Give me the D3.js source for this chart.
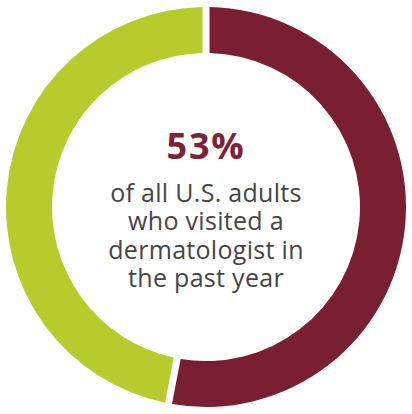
<!DOCTYPE html>
<html><head><meta charset="utf-8">
<script src="https://cdn.jsdelivr.net/npm/d3@7"></script>
<style>html,body{margin:0;padding:0;background:#fff;}svg{display:block;}</style>
</head><body>
<svg id="c" width="412" height="414"></svg>
<script>
const categories = ["Visited a dermatologist", "Did not visit"];
const values = [53, 47];
const colors = ["#7a1f31", "#b7cb2c"];
const headline = "53%";
const captionLines = ["of all U.S. adults", "who visited a", "dermatologist in", "the past year"];

const svg = d3.select("#c");
const cx = 206, cy = 207, rOuter = 200, rInner = 154;
const g = svg.append("g").attr("transform", `translate(${cx},${cy})`);
const pie = d3.pie().sort(null).value(d => d);
const arc = d3.arc().innerRadius(rInner).outerRadius(rOuter).padAngle(0.028);
g.selectAll("path").data(pie(values)).join("path")
  .attr("d", arc).attr("fill", (d, i) => colors[i]);

g.append("text").attr("x", 0).attr("y", -48).attr("text-anchor", "middle")
  .attr("font-family", "Open Sans, sans-serif").attr("font-weight", 700)
  .attr("font-size", 36).attr("letter-spacing", 1.8).attr("fill", "#7d2237").text(headline);

const ys = d3.scaleLinear().domain([0, captionLines.length - 1]).range([-5, 80]);
g.selectAll("text.cap").data(captionLines).join("text").attr("class", "cap")
  .attr("x", 0).attr("y", (d, i) => ys(i)).attr("text-anchor", "middle")
  .attr("font-family", "Open Sans, sans-serif").attr("font-size", 25)
  .attr("letter-spacing", 0.3)
  .attr("fill", "#454545").text(d => d);
</script>
</body></html>
